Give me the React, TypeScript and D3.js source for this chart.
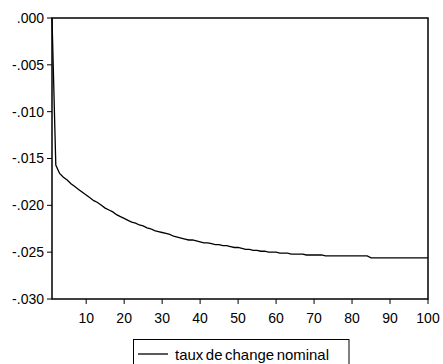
import React from "react";
import * as d3 from "d3";

const periods: number[] = Array.from({ length: 100 }, (_, i) => i + 1);
const values: number[] = [
  0, -0.0157, -0.0166, -0.017, -0.0173, -0.0177, -0.018, -0.0183, -0.0186, -0.0189,
  -0.0192, -0.0195, -0.0197, -0.02, -0.0203, -0.0205, -0.0207, -0.021, -0.0212, -0.0214,
  -0.0216, -0.0218, -0.0219, -0.0221, -0.0222, -0.0224, -0.0225, -0.0227, -0.0228, -0.0229,
  -0.023, -0.0231, -0.0233, -0.0234, -0.0235, -0.0236, -0.0237, -0.0237, -0.0238, -0.0239,
  -0.024, -0.024, -0.0241, -0.0242, -0.0242, -0.0243, -0.0243, -0.0244, -0.0245, -0.0245,
  -0.0246, -0.0247, -0.0247, -0.0248, -0.0248, -0.0249, -0.0249, -0.025, -0.025, -0.025,
  -0.0251, -0.0251, -0.0251, -0.0252, -0.0252, -0.0252, -0.0252, -0.0253, -0.0253, -0.0253,
  -0.0253, -0.0253, -0.0254, -0.0254, -0.0254, -0.0254, -0.0254, -0.0254, -0.0254, -0.0254,
  -0.0254, -0.0254, -0.0254, -0.0254, -0.0256, -0.0256, -0.0256, -0.0256, -0.0256, -0.0256,
  -0.0256, -0.0256, -0.0256, -0.0256, -0.0256, -0.0256, -0.0256, -0.0256, -0.0256, -0.0256,
];
const yTicks: number[] = [0, -0.005, -0.01, -0.015, -0.02, -0.025, -0.03];
const yTickLabels: string[] = [".000", "-.005", "-.010", "-.015", "-.020", "-.025", "-.030"];
const xTicks: number[] = [10, 20, 30, 40, 50, 60, 70, 80, 90, 100];
const seriesName = "taux de change nominal";

export default function App() {
  const W = 443, H = 364;
  const left = 52, right = 428, top = 18, bottom = 299;
  const x = d3.scaleLinear().domain([1, 100]).range([left, right]);
  const y = d3.scaleLinear().domain([-0.03, 0]).range([bottom, top]);
  const line = d3
    .line<number>()
    .x((_, i) => x(periods[i]))
    .y((d) => y(d));
  const font = "'Liberation Sans', Arial, sans-serif";
  return (
    <svg
      width={W}
      height={H}
      style={{ position: "absolute", left: 0, top: 0, background: "#fff" }}
      fontFamily={font}
    >
      <rect x={0} y={0} width={W} height={H} fill="#fff" />
      <path d={line(values) || ""} fill="none" stroke="#000" strokeWidth={1.3} />
      <rect x={left} y={top} width={right - left} height={bottom - top} fill="none" stroke="#000" strokeWidth={1.5} />
      {yTicks.map((t, i) => (
        <g key={"y" + i}>
          <line x1={left - 5} x2={left} y1={y(t)} y2={y(t)} stroke="#000" strokeWidth={1} />
          <text x={left - 8} y={y(t)} dy="0.35em" textAnchor="end" fontSize={14} fill="#000">
            {yTickLabels[i]}
          </text>
        </g>
      ))}
      {xTicks.map((t, i) => (
        <g key={"x" + i}>
          <line x1={x(t)} x2={x(t)} y1={bottom} y2={bottom + 5} stroke="#000" strokeWidth={1} />
          <text x={x(t)} y={bottom + 24} textAnchor="middle" fontSize={14} fill="#000">
            {t}
          </text>
        </g>
      ))}
      <rect x={133.5} y={339.5} width={215.5} height={26} fill="none" stroke="#000" strokeWidth={1} />
      <line x1={138} x2={168} y1={354} y2={354} stroke="#000" strokeWidth={1.3} />
      <text x={175} y={359.5} fontSize={14.5} fill="#000" wordSpacing={-1.5} textLength={154} lengthAdjust="spacingAndGlyphs">
        {seriesName}
      </text>
    </svg>
  );
}
